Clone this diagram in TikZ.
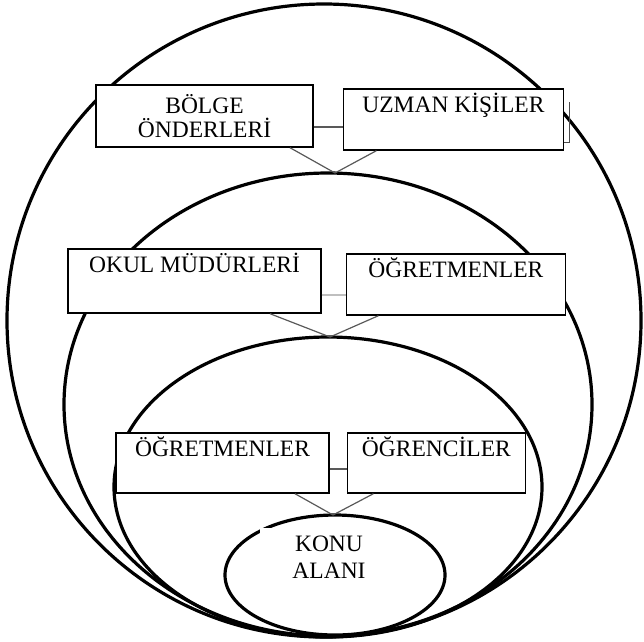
\documentclass[tikz,border=0pt]{standalone}
\usepackage{fontspec}
\setmainfont{Liberation Serif}
\usetikzlibrary{shapes.geometric, positioning}

\begin{document}
\begin{tikzpicture}[
    x=1pt, y=-1pt,
    every node/.style={font=\fontsize{23.5pt}{26pt}\selectfont, align=center},
    halka/.style={ellipse, draw=black, line width=3.2pt, inner sep=0pt, outer sep=0pt},
    kutu/.style={rectangle, draw=black, fill=white, line width=1.4pt},
    tek/.style={text height=18pt, inner ysep=5pt, text depth=#1},
    baglanti/.style={draw=black!65, line width=1.2pt},
    acik/.style={draw=black!25, line width=2.4pt}
]
\useasboundingbox (0,0) rectangle (644,641);

% Nested rings, all touching at the bottom
\node[halka, minimum width=634pt, minimum height=633pt] (dis) at (324,320.5) {};
\node[halka, minimum width=528pt, minimum height=463pt] (orta) at (328,404.5) {};
\node[halka, minimum width=428pt, minimum height=300pt] (ic) at (328,487) {};
\node[halka, minimum width=220pt, minimum height=120pt] (konu) at (335,575) {};

% Level 1 boxes
\node[kutu, minimum width=217pt, minimum height=62pt, font=\fontsize{23.5pt}{24pt}\selectfont] (bolge) at (204.5,116) {BÖLGE\\ÖNDERLERİ};
\node[kutu, tek=33pt, minimum width=220pt, right=29pt of bolge, yshift=-3.5pt] (uzman) {UZMAN KİŞİLER};

% Level 2 boxes
\node[kutu, tek=36pt, minimum width=253pt] (mudur) at (194.5,281) {OKUL MÜDÜRLERİ};
\node[kutu, tek=33pt, minimum width=219pt, right=24pt of mudur, yshift=-3.5pt] (ogrt1) {ÖĞRETMENLER};

% Level 3 boxes
\node[kutu, tek=32pt, minimum width=213pt] (ogrt2) at (222.5,463) {ÖĞRETMENLER};
\node[kutu, tek=32pt, minimum width=178pt, right=17pt of ogrt2] (ogrenci) {ÖĞRENCİLER};

% Centre label
\node[fill=white, text width=138pt, inner xsep=0pt, inner ysep=7.5pt, anchor=north, font=\fontsize{23.5pt}{27pt}\selectfont] (konuyazi) at (329,528) {KONU\\ALANI};

% Connectors
\draw[baglanti] ([yshift=-11pt]bolge.east) -- ([yshift=-11pt]bolge.east -| uzman.west);
\draw[baglanti] ([xshift=85.5pt]bolge.south) -- ([xshift=7pt]orta.north);
\draw[baglanti] ([xshift=-77pt]uzman.south) -- ([xshift=7pt]orta.north);
\draw[black!70, line width=1pt] ([xshift=5pt,yshift=-14pt]uzman.north east) |- ([yshift=8pt]uzman.south east);

\draw[acik] ([yshift=-14pt]mudur.east) -- ([yshift=-14pt]mudur.east -| ogrt1.west);
\draw[baglanti] ([xshift=75.5pt]mudur.south) -- ([xshift=2pt]ic.north);
\draw[baglanti] ([xshift=-77.5pt]ogrt1.south) -- ([xshift=2pt]ic.north);

\draw[baglanti] ([yshift=-6pt]ogrt2.east) -- ([yshift=-6pt]ogrt2.east -| ogrenci.west);
\draw[baglanti] ([xshift=72.5pt]ogrt2.south) -- ([xshift=-2pt]konu.north);
\draw[baglanti] ([xshift=-63pt]ogrenci.south) -- ([xshift=-2pt]konu.north);

\end{tikzpicture}
\end{document}
